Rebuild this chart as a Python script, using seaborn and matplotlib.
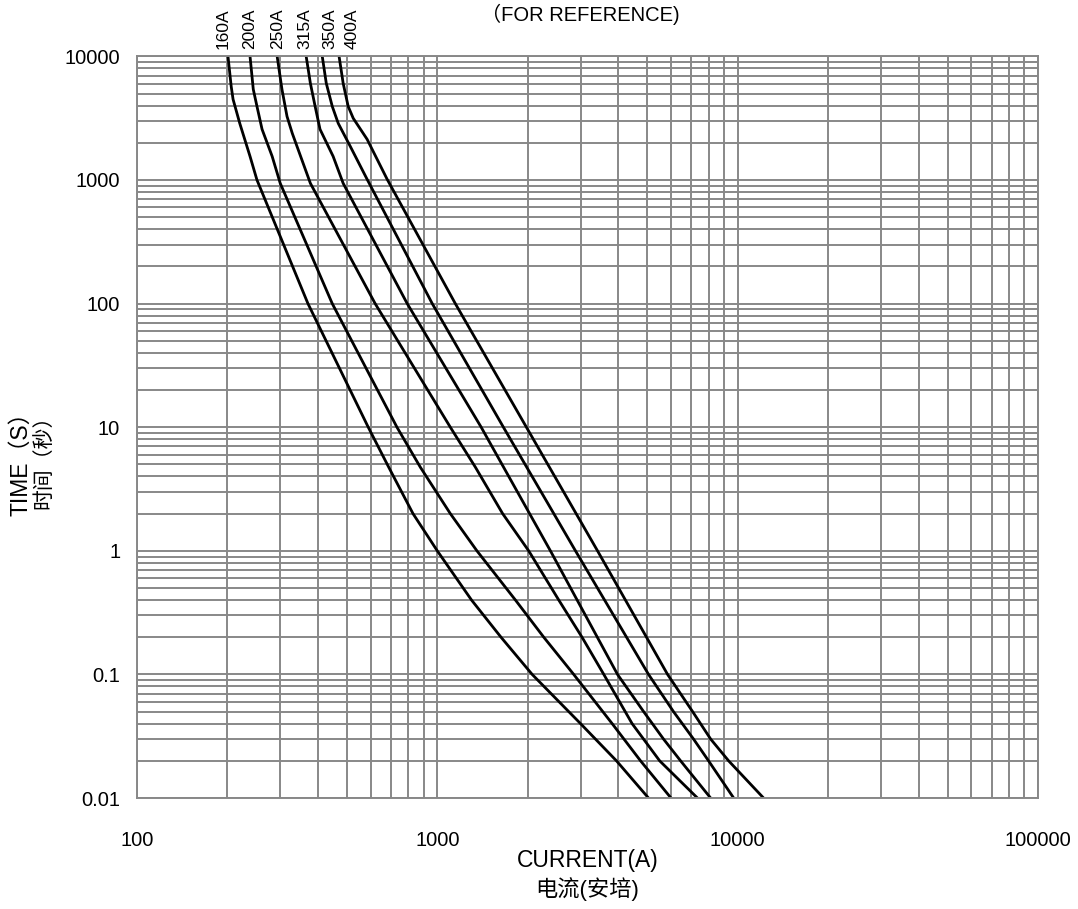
import numpy as np
import pandas as pd
import matplotlib
matplotlib.use("Agg")
import matplotlib.pyplot as plt
import matplotlib.ticker as mticker
import seaborn as sns

# fuse ratings and their time-current points (current A, time s)
ratings = ["160A", "200A", "250A", "315A", "350A", "400A"]

cur_160 = [201, 206, 209, 220, 238, 251, 371, 589, 689, 830, 1000, 1300, 1630, 2070, 2999, 3950, 5050]
t_160 = [10000, 5720, 4490, 2870, 1553, 1000, 100, 10, 4.75, 2.0, 1, 0.4, 0.2, 0.1, 0.04, 0.02, 0.01]

cur_200 = [238, 244, 251, 261, 282, 300, 447, 734, 878, 1105, 1355, 1820, 2262, 2846, 3821, 4750, 6000]
t_200 = [10000, 5410, 3940, 2570, 1553, 940, 100, 10, 4.75, 2.0, 1, 0.4, 0.2, 0.1, 0.04, 0.02, 0.01]

cur_250 = [293, 304, 316, 329, 378, 621, 1105, 1339, 1650, 2015, 2537, 3033, 3584, 4452, 5500, 7350]
t_250 = [10000, 5410, 3270, 2385, 940, 100, 10, 4.75, 2.0, 1, 0.4, 0.2, 0.1, 0.04, 0.02, 0.01]

cur_315 = [366, 378, 392, 407, 450, 486, 794, 1400, 2380, 3981, 4864, 5665, 6457, 8130]
t_315 = [10000, 6050, 3940, 2570, 1553, 940, 100, 10, 1, 0.1, 0.05, 0.03, 0.02, 0.01]

cur_350 = [414, 427, 447, 468, 513, 584, 962, 1660, 2884, 5050, 6115, 7130, 8000, 9700]
t_350 = [10000, 6050, 3940, 2870, 1873, 1012, 100, 10, 1, 0.1, 0.05, 0.03, 0.02, 0.01]

cur_400 = [471, 486, 505, 525, 584, 681, 1148, 1980, 3415, 5843, 7080, 8130, 9330, 12200]
t_400 = [10000, 6050, 3940, 3155, 2133, 1012, 100, 10, 1, 0.1, 0.05, 0.03, 0.02, 0.01]

currents = [cur_160, cur_200, cur_250, cur_315, cur_350, cur_400]
times = [t_160, t_200, t_250, t_315, t_350, t_400]

# where the rating labels sit along the top edge (current, A)
label_x = [194, 238, 293, 363, 440, 521]

frames = []
for name, c, t in zip(ratings, currents, times):
    frames.append(pd.DataFrame({"current": c, "time": t, "rating": name}))
df = pd.concat(frames, ignore_index=True)

sns.set_style("white")
plt.rcParams["font.family"] = ["Liberation Sans", "Noto Sans CJK SC", "DejaVu Sans"]
plt.rcParams["text.color"] = "black"
plt.rcParams["xtick.color"] = "black"
plt.rcParams["ytick.color"] = "black"

fig = plt.figure(figsize=(10.78, 9.09), dpi=100)
ax = fig.add_axes([0.127, 0.122, 0.836, 0.816])

for name in ratings:
    sns.lineplot(data=df[df["rating"] == name], x="current", y="time", sort=False,
                 estimator=None, color="black", lw=2.0, ax=ax, legend=False)

ax.set_xscale("log")
ax.set_yscale("log")
ax.set_xlim(100, 100000)
ax.set_ylim(0.01, 10000)

ax.xaxis.set_major_locator(mticker.LogLocator(base=10, numticks=20))
ax.yaxis.set_major_locator(mticker.LogLocator(base=10, numticks=20))
ax.xaxis.set_minor_locator(mticker.LogLocator(base=10, subs=np.arange(2, 10), numticks=100))
ax.yaxis.set_minor_locator(mticker.LogLocator(base=10, subs=np.arange(2, 10), numticks=100))
fmt = mticker.FuncFormatter(lambda v, _: f"{v:g}")
ax.xaxis.set_major_formatter(fmt)
ax.yaxis.set_major_formatter(fmt)
ax.xaxis.set_minor_formatter(mticker.NullFormatter())
ax.yaxis.set_minor_formatter(mticker.NullFormatter())

ax.grid(which="both", color="#888888", lw=1.4)
ax.set_axisbelow(True)
for sp in ax.spines.values():
    sp.set_color("#888888")
    sp.set_linewidth(1.4)
ax.tick_params(which="both", length=0)
ax.tick_params(axis="x", pad=24, labelsize=14.5, labelcolor="black")
ax.tick_params(axis="y", pad=12, labelsize=14.5, labelcolor="black")
ax.set_xlabel("")
ax.set_ylabel("")

for name, lx in zip(ratings, label_x):
    ax.annotate(name, xy=(lx, 10000), xytext=(0, 5), textcoords="offset points",
                rotation=90, ha="center", va="bottom", fontsize=12.5, color="black")

fig.text(0.538, 0.984, "（FOR REFERENCE)", ha="center", va="center", fontsize=14.5)
fig.text(0.545, 0.053, "CURRENT(A)", ha="center", va="center", fontsize=16.5)
fig.text(0.545, 0.022, "电流(安培)", ha="center", va="center", fontsize=16)
fig.text(0.019, 0.496, "TIME（S）", ha="center", va="center", rotation=90, fontsize=16.5)
fig.text(0.040, 0.498, "时间（秒）", ha="center", va="center", rotation=90, fontsize=15)

fig.savefig("out.png", dpi=100)
